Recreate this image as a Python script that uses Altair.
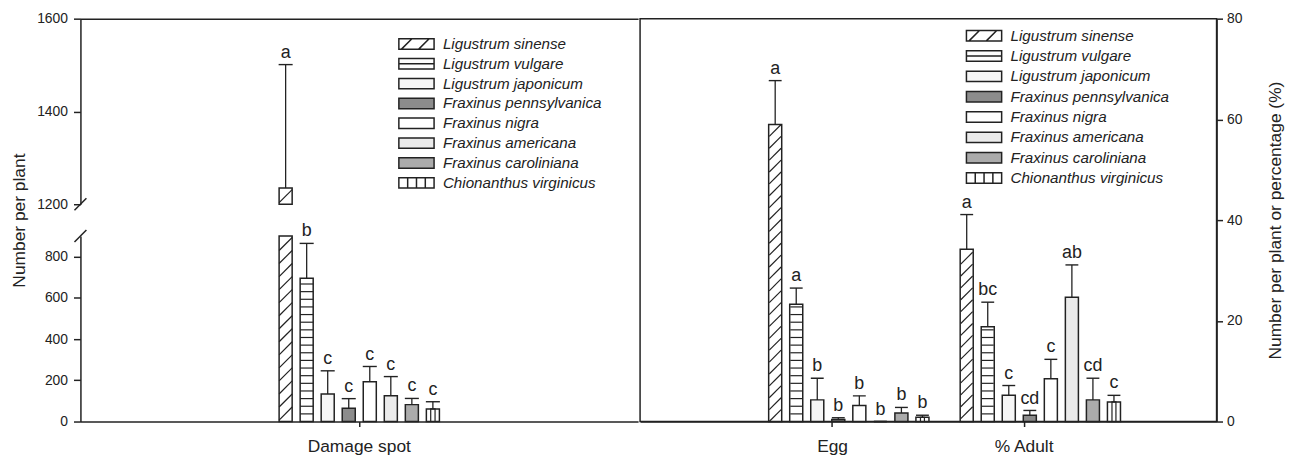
import altair as alt
import pandas as pd

# ---------------- data ----------------
species = ["Ligustrum sinense", "Ligustrum vulgare", "Ligustrum japonicum",
           "Fraxinus pennsylvanica", "Fraxinus nigra", "Fraxinus americana",
           "Fraxinus caroliniana", "Chionanthus virginicus"]
fills = ["#ffffff", "#ffffff", "#f6f6f6", "#8c8c8c", "#ffffff", "#ebebeb", "#ababab", "#ffffff"]

left_groups = ["Damage spot"]
right_groups = ["Egg", "% Adult"]

damage_mean = [1235, 695, 133, 64, 193, 125, 82, 61]
damage_upper = [1501, 864, 246, 111, 267, 218, 112, 96]
damage_letters = ["a", "b", "c", "c", "c", "c", "c", "c"]

egg_mean = [59.0, 23.3, 4.3, 0.4, 3.2, 0.0, 1.7, 0.85]
egg_upper = [67.7, 26.5, 8.6, 0.75, 5.1, 0.0, 2.8, 1.25]
egg_letters = ["a", "a", "b", "b", "b", "b", "b", "b"]

adult_mean = [34.2, 18.8, 5.2, 1.25, 8.5, 24.7, 4.3, 3.9]
adult_upper = [41.1, 23.7, 7.15, 2.2, 12.35, 31.1, 8.6, 5.2]
adult_letters = ["a", "bc", "c", "cd", "c", "ab", "cd", "c"]

upper_ticks = [1200, 1400, 1600]
lower_ticks = [0, 200, 400, 600, 800]
right_ticks = [0, 20, 40, 60, 80]

# ---------------- style / layout ----------------
FONT = "Liberation Sans"
INK = "#222222"
LW, RW = 562, 581
UH, LH, GAP, RH = 187, 187, 32, 406
UP_DOM, LO_DOM, R_DOM = [1200, 1600], [0, 900], [0, 80]

L_SUB_P, R_SUB_P = 0.38, 0.30
L_BW = 169.6
L_PI = (LW - 3 * L_BW) / (LW - L_BW)   # with paddingOuter = 1
L_STEP = L_BW / 8
L_INNER = L_STEP * (1 - L_SUB_P)
R_PI, R_PO = 0.291, 0.6506
R_STEP = RW / (2 - R_PI + 2 * R_PO)
R_BW = R_STEP * (1 - R_PI)
R_INNER = R_BW / 8 * (1 - R_SUB_P)

RECT = "M-5.79,-0.875H0.125V0.875H-5.79Z"
shape_paths = [
    RECT + "M-5.35,0.875L-3.6,-0.875M-2.45,0.875L-0.7,-0.875",
    RECT + "M-5.79,0H0.125",
    RECT, RECT, RECT, RECT, RECT,
    RECT + "M-4.31,-0.875V0.875M-2.83,-0.875V0.875M-1.35,-0.875V0.875",
]


def frame(groups, means, uppers, letters):
    rows = []
    for g, m, u, l in zip(groups, means, uppers, letters):
        for s, mv, uv, lv in zip(species, m, u, l):
            rows.append({"group": g, "species": s, "mean": mv, "upper": uv, "letter": lv})
    return pd.DataFrame(rows)


def diag_positions(top, base, ppu, d):
    h = (top - base) * ppu
    n = max(int(h // d), 1)
    off = (h - n * d) / 2
    return [base + (off + d / 2 + k * d) / ppu for k in range(n)]


def stripe_positions(top, base, ppu, d=7.7):
    h = (top - base) * ppu
    return [base + k * d / ppu for k in range(1, int((h - 2.5) // d) + 1)]


ax_common = dict(domainColor=INK, domainWidth=1.5, tickColor=INK, tickWidth=1.5,
                 labelColor=INK, labelFont=FONT, grid=False)


def make_legend(x, y, rowpad):
    return alt.Legend(title=None, orient="none", legendX=x, legendY=y, symbolSize=144,
                      symbolStrokeColor=INK, symbolStrokeWidth=1.5, symbolOpacity=1,
                      symbolOffset=0, labelFont=FONT, labelFontSize=15.3,
                      labelFontStyle="italic", labelColor=INK, labelOffset=2,
                      labelLimit=400, rowPadding=rowpad, padding=0)


fill_scale = alt.Scale(domain=species, range=fills)
shape_scale = alt.Scale(domain=species, range=shape_paths)
stroke_scale = alt.Scale(domain=species, range=[INK] * len(species))


def panel(df, hatch, stripes, groups, xscale, xoscale, xaxis, yscale, yaxis,
          inner, legend=None, base=None, breaks=None):
    X = alt.X("group:N", scale=xscale, sort=groups, axis=xaxis)
    XO = alt.XOffset("species:N", scale=xoscale, sort=species)

    def Y(f):
        return alt.Y(f"{f}:Q", scale=yscale, axis=yaxis)

    F = alt.Fill("species:N", scale=fill_scale, legend=legend)
    c = alt.Chart(df)
    enc = dict(x=X, xOffset=XO, y=Y("mean"), fill=F)
    if base is not None:
        enc["y2"] = alt.Y2(datum=base)
    layers = [c.mark_bar(stroke=INK, strokeWidth=1.5).encode(**enc)]

    if len(hatch):
        layers.append(alt.Chart(hatch).mark_point(
            shape="M-1,1L1,-1", size=inner ** 2, filled=False, color=INK,
            strokeWidth=1.2, opacity=1).encode(x=X, xOffset=XO, y=Y("v")))
    if len(stripes):
        layers.append(alt.Chart(stripes).mark_tick(
            orient="horizontal", size=inner, thickness=1.2, color=INK,
            opacity=1).encode(x=X, xOffset=XO, y=Y("v")))
    venc = dict(x=X, xOffset=XO, y=Y("mean"))
    if base is not None:
        venc["y2"] = alt.Y2(datum=base)
    layers.append(c.transform_filter(alt.datum.species == species[7]).mark_bar(
        width=inner / 3, fillOpacity=0, stroke=INK, strokeWidth=1.2).encode(**venc))

    e = c.transform_filter(alt.datum.upper <= yscale.domain[1])
    layers.append(e.mark_rule(color=INK, strokeWidth=1.3).encode(
        x=X, xOffset=XO, y=Y("mean"), y2="upper:Q"))
    layers.append(e.mark_tick(orient="horizontal", size=inner + 1, thickness=1.4,
                              color=INK, opacity=1).encode(x=X, xOffset=XO, y=Y("upper")))
    layers.append(e.mark_text(baseline="alphabetic", dy=-7, fontSize=18, font=FONT,
                              color=INK).encode(x=X, xOffset=XO, y=Y("upper"),
                                                text="letter:N"))
    if legend is not None:
        layers.append(c.mark_point(filled=True, opacity=0, size=144,
                                   strokeWidth=1.5).encode(
            x=X, xOffset=XO, y=Y("mean"), fill=F,
            stroke=alt.Stroke("species:N", scale=stroke_scale, legend=legend),
            shape=alt.Shape("species:N", scale=shape_scale, legend=legend)))
    if breaks is not None:
        layers.append(alt.Chart(pd.DataFrame({"k": [0]})).mark_rule(
            color=INK, strokeWidth=1.5, yOffset=6, y2Offset=-6).encode(
            x=alt.value(-6), x2=alt.value(6),
            y=alt.Y(datum=breaks, scale=yscale, axis=yaxis), y2=alt.Y2(datum=breaks)))
    return alt.layer(*layers)


# ---------------- left panel ----------------
dmg = frame(left_groups, [damage_mean], [damage_upper], [damage_letters])
l_xscale = alt.Scale(domain=left_groups, paddingInner=L_PI, paddingOuter=1)
l_xoscale = alt.Scale(domain=species, paddingInner=L_SUB_P, paddingOuter=L_SUB_P / 2)

up_ppu = UH / (UP_DOM[1] - UP_DOM[0])
lo_ppu = LH / (LO_DOM[1] - LO_DOM[0])
up_df = dmg[dmg["mean"] > LO_DOM[1]]
up_hatch = pd.DataFrame([{"group": r.group, "species": r.species, "v": v}
                         for r in up_df.itertuples()
                         for v in diag_positions(r.mean, UP_DOM[0], up_ppu, L_INNER)])
lo_hatch = pd.DataFrame([{"group": r.group, "species": r.species, "v": v}
                         for r in dmg[dmg.species == species[0]].itertuples()
                         for v in diag_positions(min(r.mean, LO_DOM[1]), 0, lo_ppu, L_INNER)])
lo_stripes = pd.DataFrame([{"group": r.group, "species": r.species, "v": v}
                           for r in dmg[dmg.species == species[1]].itertuples()
                           for v in stripe_positions(r.mean, 0, lo_ppu)])

up_yscale = alt.Scale(domain=UP_DOM, nice=False, zero=False, clamp=True)
lo_yscale = alt.Scale(domain=LO_DOM, nice=False, clamp=True)

up_yaxis = alt.Axis(values=upper_ticks, format="d", title="Number per plant", titleY=203,
                    titlePadding=8.5, titleFont=FONT, titleFontSize=17.5,
                    titleFontWeight="normal", titleColor=INK, tickSize=7, labelPadding=6,
                    labelFontSize=14, **ax_common)
lo_yaxis = alt.Axis(values=lower_ticks, format="d", title=None, tickSize=7, labelPadding=6,
                    labelFontSize=14, **ax_common)
up_xaxis = alt.Axis(orient="top", labels=False, ticks=False, title=None, **ax_common)
lo_xaxis = alt.Axis(orient="bottom", title=None, labelFontSize=17.5, tickSize=5,
                    labelPadding=11, labelAngle=0, **ax_common)

upper = panel(up_df, up_hatch, pd.DataFrame(), left_groups, l_xscale, l_xoscale, up_xaxis,
              up_yscale, up_yaxis, L_INNER, legend=make_legend(348, 17.8, 3),
              base=UP_DOM[0], breaks=UP_DOM[0]).properties(width=LW, height=UH)
lower = panel(dmg, lo_hatch, lo_stripes, left_groups, l_xscale, l_xoscale, lo_xaxis,
              lo_yscale, lo_yaxis, L_INNER, breaks=LO_DOM[1]).properties(width=LW, height=LH)

left = alt.vconcat(upper, lower, spacing=GAP, bounds="flush").resolve_scale(
    fill="independent", shape="independent", stroke="independent")

# ---------------- right panel ----------------
rdf = frame(right_groups, [egg_mean, adult_mean], [egg_upper, adult_upper],
            [egg_letters, adult_letters])
r_ppu = RH / (R_DOM[1] - R_DOM[0])
r_hatch = pd.DataFrame([{"group": r.group, "species": r.species, "v": v}
                        for r in rdf[rdf.species == species[0]].itertuples()
                        for v in diag_positions(r.mean, 0, r_ppu, R_INNER)])
r_stripes = pd.DataFrame([{"group": r.group, "species": r.species, "v": v}
                          for r in rdf[rdf.species == species[1]].itertuples()
                          for v in stripe_positions(r.mean, 0, r_ppu)])
r_xscale = alt.Scale(domain=right_groups, paddingInner=R_PI, paddingOuter=R_PO)
r_xoscale = alt.Scale(domain=species, paddingInner=R_SUB_P, paddingOuter=R_SUB_P / 2)
r_yscale = alt.Scale(domain=R_DOM, nice=False)
r_yaxis = alt.Axis(orient="right", values=right_ticks, format="d",
                   title="Number per plant or percentage (%)", titleAngle=270,
                   titleBaseline="top", titlePadding=25, titleFont=FONT, titleFontSize=17.5,
                   titleFontWeight="normal", titleColor=INK, tickSize=6, labelPadding=4,
                   labelFontSize=14, **ax_common)
r_xaxis = alt.Axis(orient="bottom", title=None, labelFontSize=17.5, tickSize=5,
                   labelPadding=11, labelAngle=0, **ax_common)

right = panel(rdf, r_hatch, r_stripes, right_groups, r_xscale, r_xoscale, r_xaxis,
              r_yscale, r_yaxis, R_INNER, legend=make_legend(356, 9.5, 3.5)).properties(
    width=RW, height=RH, view=alt.ViewBackground(stroke=INK, strokeWidth=1.5))

chart = alt.hconcat(left, right, spacing=0).resolve_scale(
    fill="independent", shape="independent", stroke="independent").properties(
    padding={"left": 1, "top": 1, "right": 5, "bottom": 0}
).configure_view(stroke="transparent")

chart.save("out.html", embed_options={"renderer": "svg", "actions": False})
